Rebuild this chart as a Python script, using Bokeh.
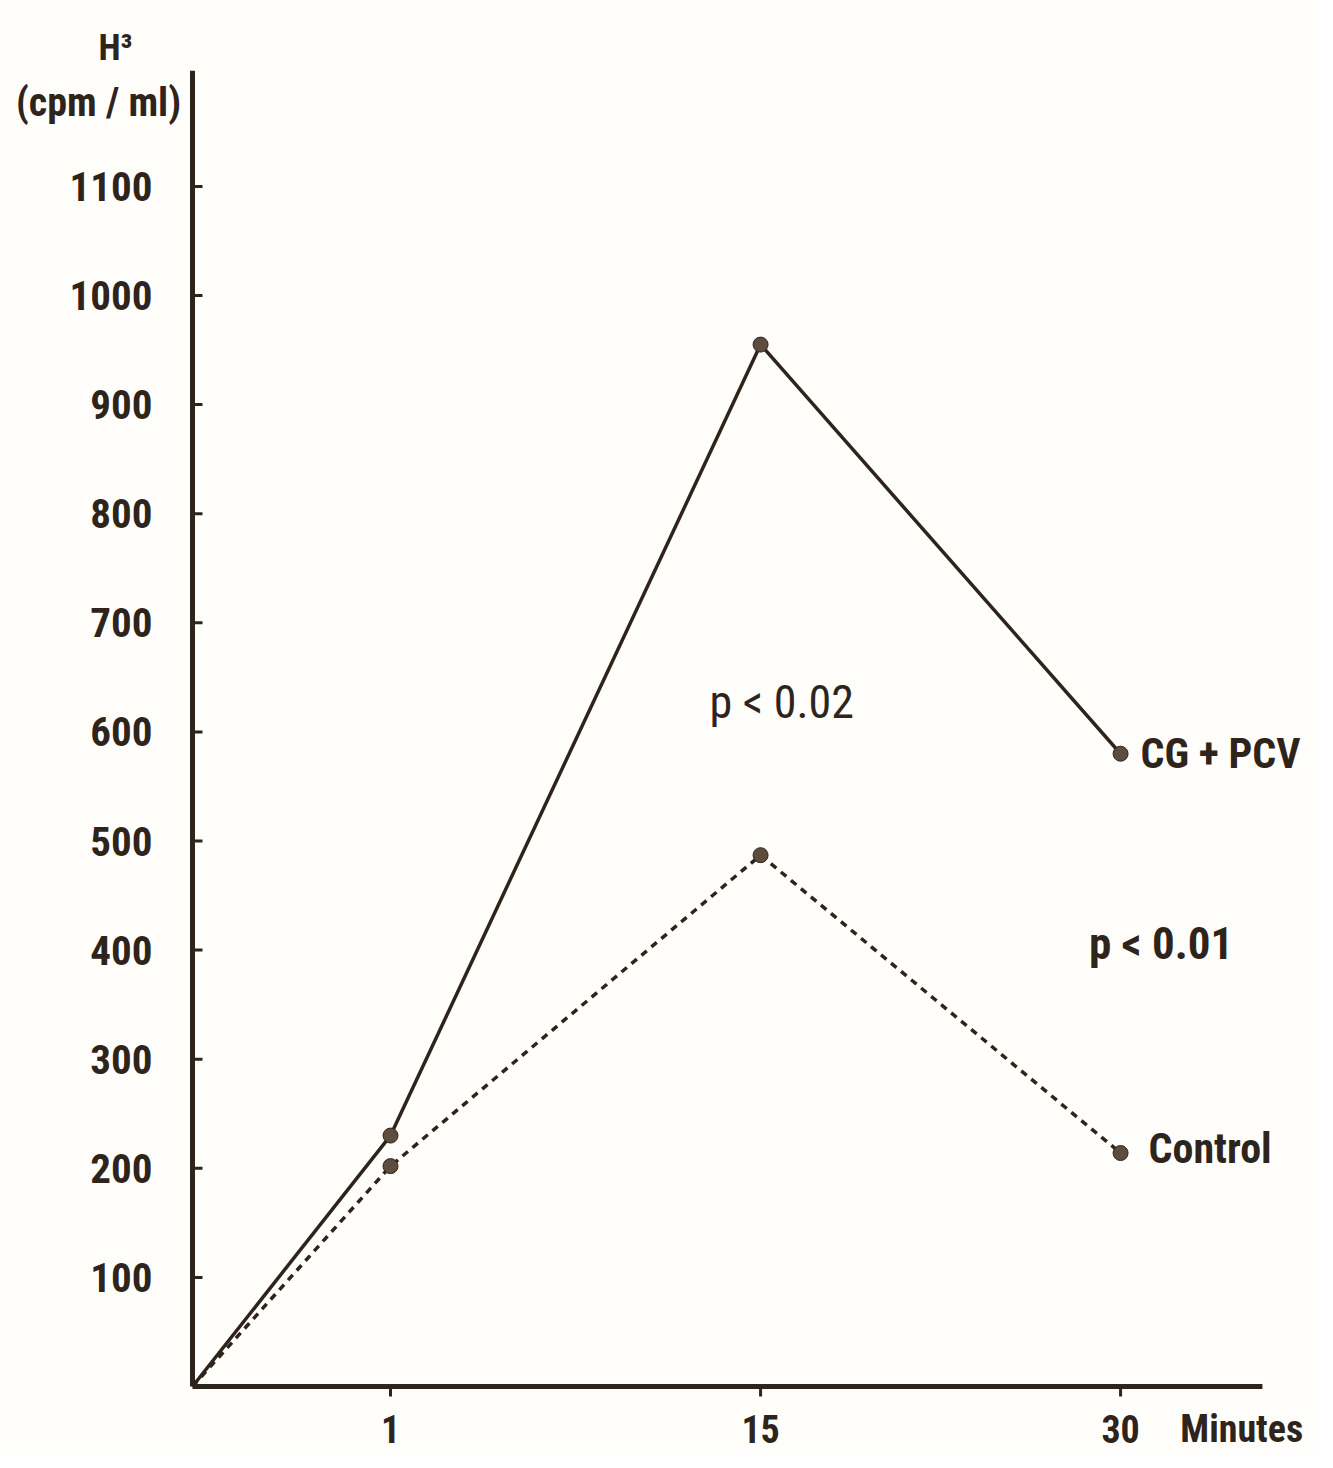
from bokeh.plotting import figure
from bokeh.models import Range1d, ColumnDataSource
from bokeh.embed import file_html
from bokeh.resources import INLINE
from bokeh.core.properties import value

# ---- data ----
minutes = [0, 1, 15, 30]
# horizontal placement of each time point on the (non-linear) original axis
x_pos = [0.0, 0.55, 1.578, 2.578]
cg_pcv = [0, 230, 955, 580]
control = [0, 202, 487, 214]
y_ticks = [100, 200, 300, 400, 500, 600, 700, 800, 900, 1000, 1100]
y_tick_labels = ["100", "200", "300", "400", "500", "600", "700", "800", "900", "1000", "1100"]
x_tick_labels = ["1", "15", "30"]
y_axis_top = 1206
x_axis_end = 2.972

INK = "#2e241c"
DOT = "#5c4d3e"
FONT = "Liberation Sans Narrow, Roboto Condensed, DejaVu Sans Condensed, sans-serif"

PX_X = 360.0   # pixels per x unit
PX_Y = 1.091   # pixels per y unit
W, H = 1317, 1452
OX, OY = 192, 1386  # canvas position of the origin

p = figure(width=W, height=H, output_backend="svg", toolbar_location=None,
           x_range=Range1d(-OX / PX_X, (W - OX) / PX_X),
           y_range=Range1d(-(H - OY) / PX_Y, OY / PX_Y),
           x_axis_location=None, y_axis_location=None,
           min_border=0)
p.background_fill_color = "#fffefb"
p.border_fill_color = "#fffefb"
p.outline_line_color = None
p.grid.visible = False

# axis lines
p.segment(x0=[0, 0], y0=[0, 0], x1=[0, x_axis_end], y1=[y_axis_top, 0],
          line_color=INK, line_width=5)
# y ticks (inward)
p.segment(x0=[0] * len(y_ticks), y0=y_ticks, x1=[10 / PX_X] * len(y_ticks), y1=y_ticks,
          line_color=INK, line_width=3)
# x ticks (outward)
p.segment(x0=x_pos[1:], y0=[0] * 3, x1=x_pos[1:], y1=[-10 / PX_Y] * 3,
          line_color=INK, line_width=3)

# tick labels
p.text(x=[-40 / PX_X] * len(y_ticks), y=y_ticks, text=y_tick_labels,
       text_font=value(FONT), text_font_size="41px", text_font_style="bold",
       text_color=INK, text_align="right", text_baseline="middle")
p.text(x=x_pos[1:], y=[-42 / PX_Y] * 3, text=x_tick_labels,
       text_font=value(FONT), text_font_size="38px", text_font_style="bold",
       text_color=INK, text_align="center", text_baseline="middle")

src = ColumnDataSource(dict(x=x_pos, minutes=minutes, cg=cg_pcv, ctl=control))
p.line("x", "cg", source=src, line_color=INK, line_width=3.5)
p.line("x", "ctl", source=src, line_color=INK, line_width=3.5, line_dash="7 6")
p.scatter(x=x_pos[1:], y=cg_pcv[1:], size=15, fill_color=DOT, line_color=INK, line_width=1)
p.scatter(x=x_pos[1:], y=control[1:], size=15, fill_color=DOT, line_color=INK, line_width=1)

def lab(x, y, text, size="40px", style="normal", align="left", xo=0, yo=0):
    p.text(x=[x], y=[y], text=[text], text_font=value(FONT), text_font_size=size,
           text_font_style=style, text_color=INK, text_align=align,
           text_baseline="middle", x_offset=xo, y_offset=yo)

lab(-77 / PX_X, 1227, "H³", size="36px", style="bold", align="center")
lab(-94 / PX_X, 1177, "(cpm / ml)", size="40px", style="bold", align="center")
lab(1.436, 627, "p < 0.02", size="46px")
lab(2.49, 406, "p < 0.01", size="45px", style="bold")
lab(x_pos[3], cg_pcv[3], "CG + PCV", size="42px", style="bold", xo=20)
lab(x_pos[3], control[3], "Control", size="42px", style="bold", xo=28, yo=-5)
lab(x_axis_end - 0.228, -42 / PX_Y, "Minutes", size="38px", style="bold")

open("out.html", "w").write(file_html(p, INLINE))
